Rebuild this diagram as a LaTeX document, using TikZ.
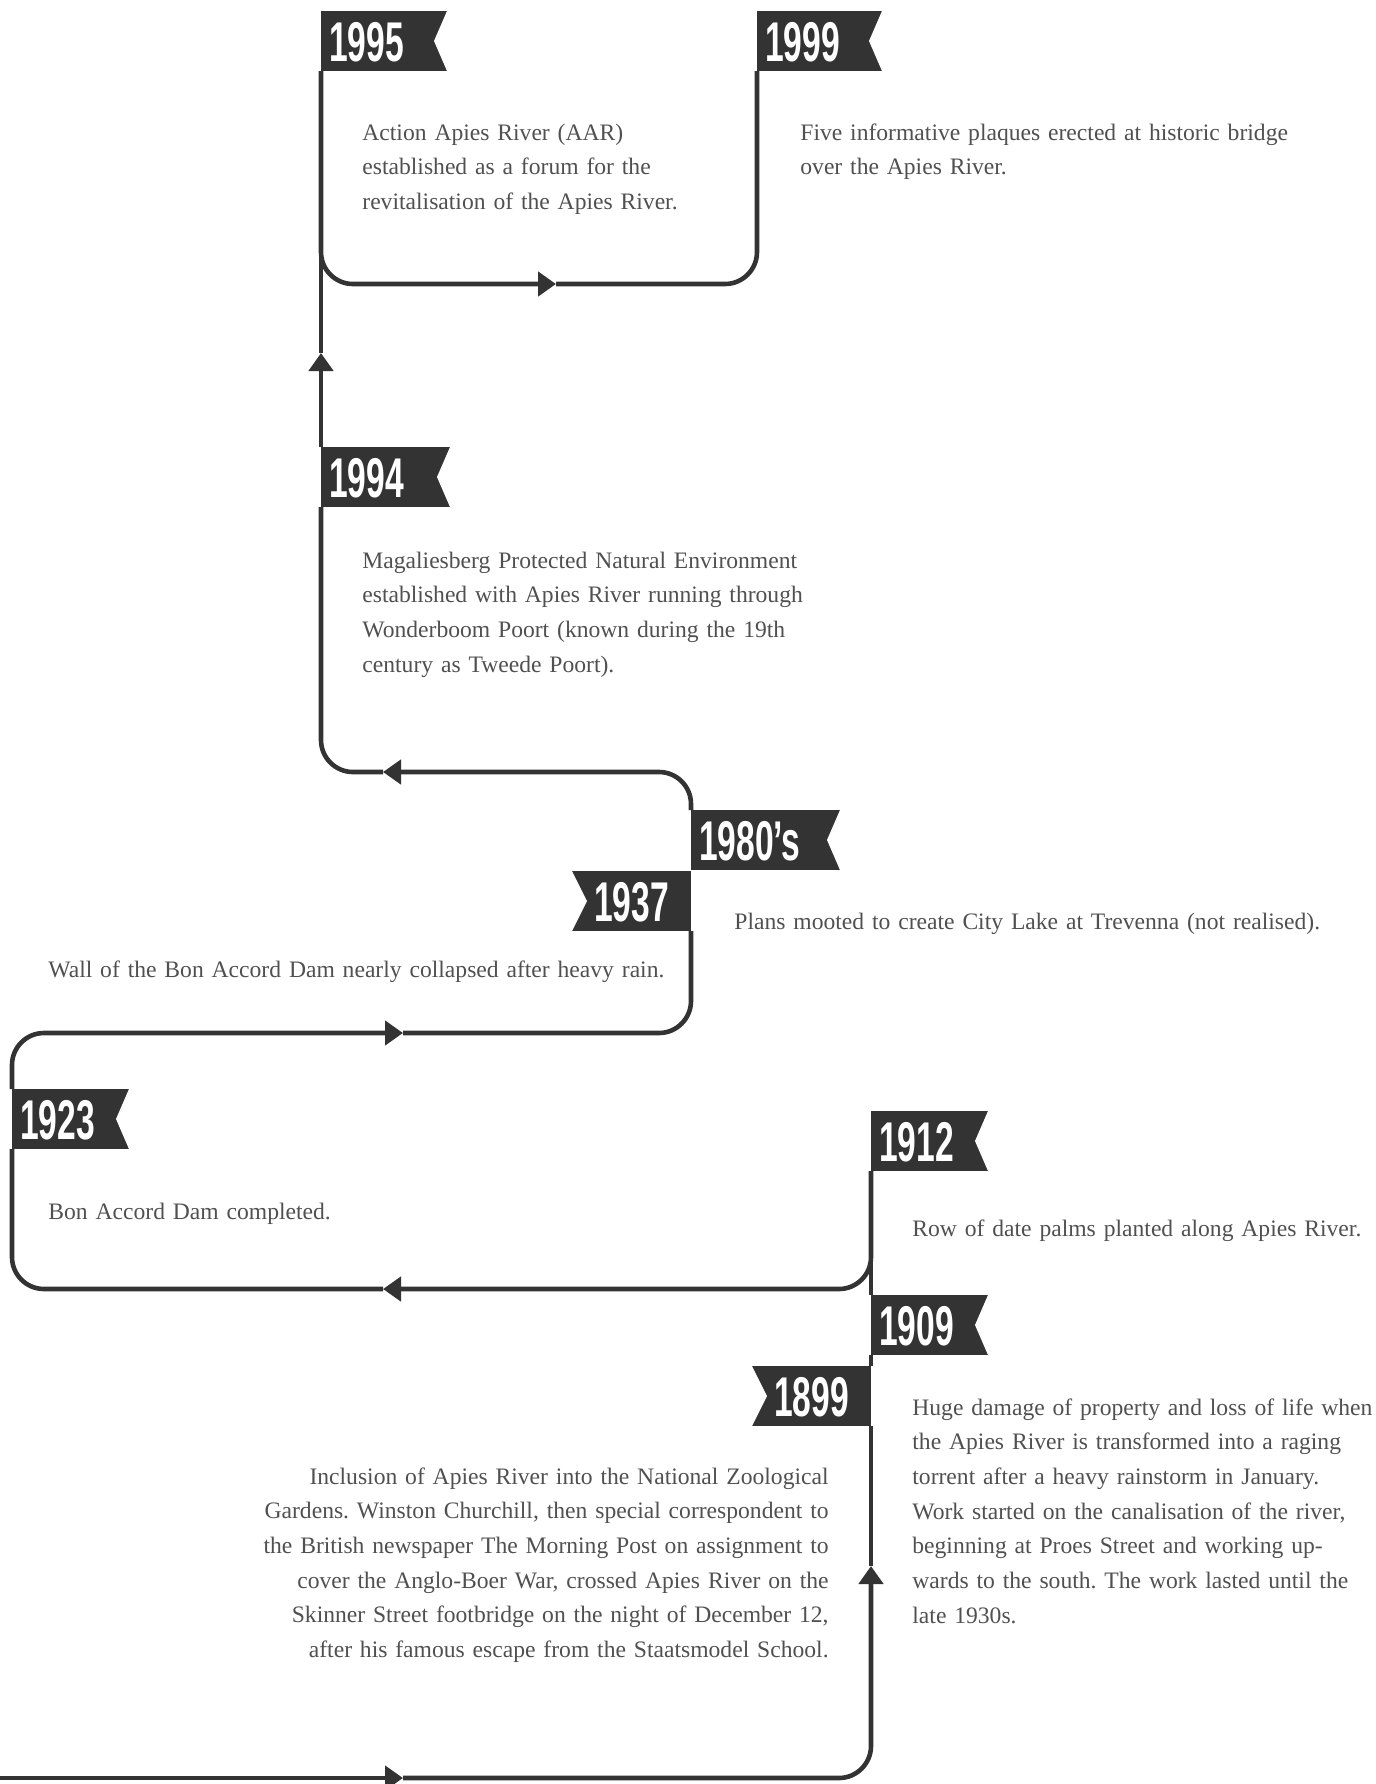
\documentclass[tikz,border=0pt]{standalone}
\usepackage{fontspec}
\usepackage{tikz}
\usetikzlibrary{arrows.meta, positioning, calc}
\setmainfont{Liberation Serif}[WordSpace=0.8]
\newfontfamily\yearfont[FakeStretch=0.6]{Liberation Sans}
\definecolor{flaggray}{RGB}{51,51,51}
\definecolor{linegray}{RGB}{51,51,51}
\definecolor{txtgray}{RGB}{80,80,80}
\frenchspacing

\begin{document}
\begin{tikzpicture}[
  x=0.5pt, y=-0.5pt,
  flag/.style={rectangle, fill=flaggray, text=white, outer sep=0pt,
               inner xsep=4pt, inner ysep=5pt, text height=20pt, text depth=0pt,
               font=\yearfont\bfseries\fontsize{28pt}{28pt}\selectfont},
  flagR/.style={flag, anchor=north west, text width=#1, align=left,
               path picture={\fill[white] (path picture bounding box.north east)
                 -- ([xshift=-6.5pt]path picture bounding box.east)
                 -- (path picture bounding box.south east) -- cycle;}},
  flagL/.style={flag, anchor=north east, text width=#1, align=center,
               path picture={\fill[white] (path picture bounding box.north west)
                 -- ([xshift=7.5pt]path picture bounding box.west)
                 -- (path picture bounding box.south west) -- cycle;}},
  desc/.style={anchor=base west, inner sep=0pt, text width=330pt, align=left,
               text=txtgray, font=\fontsize{11.8pt}{17.35pt}\selectfont},
  descR/.style={desc, anchor=base east, align=right},
  river/.style={draw=linegray, line width=2.3pt, rounded corners=16pt},
  arr/.style={-{Triangle[length=9pt, width=12pt]}}
]
  \useasboundingbox (0,0) rectangle (1376,1784);

  %% -- Year flags
  \node[flagR=55pt]   (y1995) at (321,11)   {1995};
  \node[flagR=54.5pt] (y1999) at (757,11)   {1999};
  \node[flagR=56.5pt] (y1994) at (321,447)  {1994};
  \node[flagR=66.5pt] (y1980) at (691,810)  {1980’s};
  \node[flagL=51.5pt] (y1937) at (691,871)  {1937};
  \node[flagR=50.5pt] (y1923) at (12,1089)  {1923};
  \node[flagR=50.5pt] (y1912) at (871,1111) {1912};
  \node[flagR=50.5pt] (y1909) at (871,1295) {1909};
  \node[flagL=51.5pt] (y1899) at (871,1366) {1899};

  %% -- Event texts
  \node[desc] (t1995) at (362,140) {Action Apies River (AAR)\\
    established as a forum for the\\ revitalisation of the Apies River.};
  \node[desc] (t1999) at (800,140) {Five informative plaques erected at historic bridge\\
    over the Apies River.};
  \node[desc] (t1994) at (362,568) {Magaliesberg Protected Natural Environment\\
    established with Apies River running through\\
    Wonderboom Poort (known during the 19th\\ century as Tweede Poort).};
  \node[desc] (t1980) at (734,929) {Plans mooted to create City Lake at Trevenna (not realised).};
  \node[desc] (t1937) at (48,977)  {Wall of the Bon Accord Dam nearly collapsed after heavy rain.};
  \node[desc] (t1923) at (48,1219) {Bon Accord Dam completed.};
  \node[desc] (t1912) at (912,1236) {Row of date palms planted along Apies River.};
  \node[desc] (t1909) at (912,1415) {Huge damage of property and loss of life when\\
    the Apies River is transformed into a raging\\
    torrent after a heavy rainstorm in January.\\
    Work started on the canalisation of the river,\\
    beginning at Proes Street and working up-\\
    wards to the south. The work lasted until the\\ late 1930s.};
  \node[descR] (t1899) at (829,1484) {Inclusion of Apies River into the National Zoological\\
    Gardens. Winston Churchill, then special correspondent to\\
    the British newspaper The Morning Post on assignment to\\
    cover the Anglo-Boer War, crossed Apies River on the\\
    Skinner Street footbridge on the night of December 12,\\
    after his famous escape from the Staatsmodel School.};

  %% -- River line (arrow tips)
  \coordinate (start) at (0,1778);
  \coordinate (a1) at (403,1778);
  \coordinate (a2) at (871,1566);
  \coordinate (a3) at (383,1289);
  \coordinate (a4) at (403,1033);
  \coordinate (a5) at (383,772);
  \coordinate (a6) at (321,353);
  \coordinate (a7) at (556,284);

  \draw[river, arr] (start) -- (a1);
  \draw[river, arr] (a1) -| (a2);
  \draw[river] (a2) -- (y1899.south east);
  \draw[river] (y1899.north east) -- (y1909.south west);
  \draw[river] (y1909.north west) -- (y1912.south west);

  \draw[river, arr] (y1912.south west) |- (a3);
  \draw[river] (a3) -| (y1923.south west);

  \draw[river, arr] (y1923.north west) |- (a4);
  \draw[river] (a4) -| (y1937.south east);

  \draw[river, arr] (y1980.north west) |- (a5);
  \draw[river] (a5) -| (y1994.south west);

  \draw[river, arr] (y1994.north west) -- (a6);
  \draw[river] (a6) -- (y1995.south west);

  \draw[river, arr] (y1995.south west) |- (a7);
  \draw[river] (a7) -| (y1999.south west);

\end{tikzpicture}
\end{document}
